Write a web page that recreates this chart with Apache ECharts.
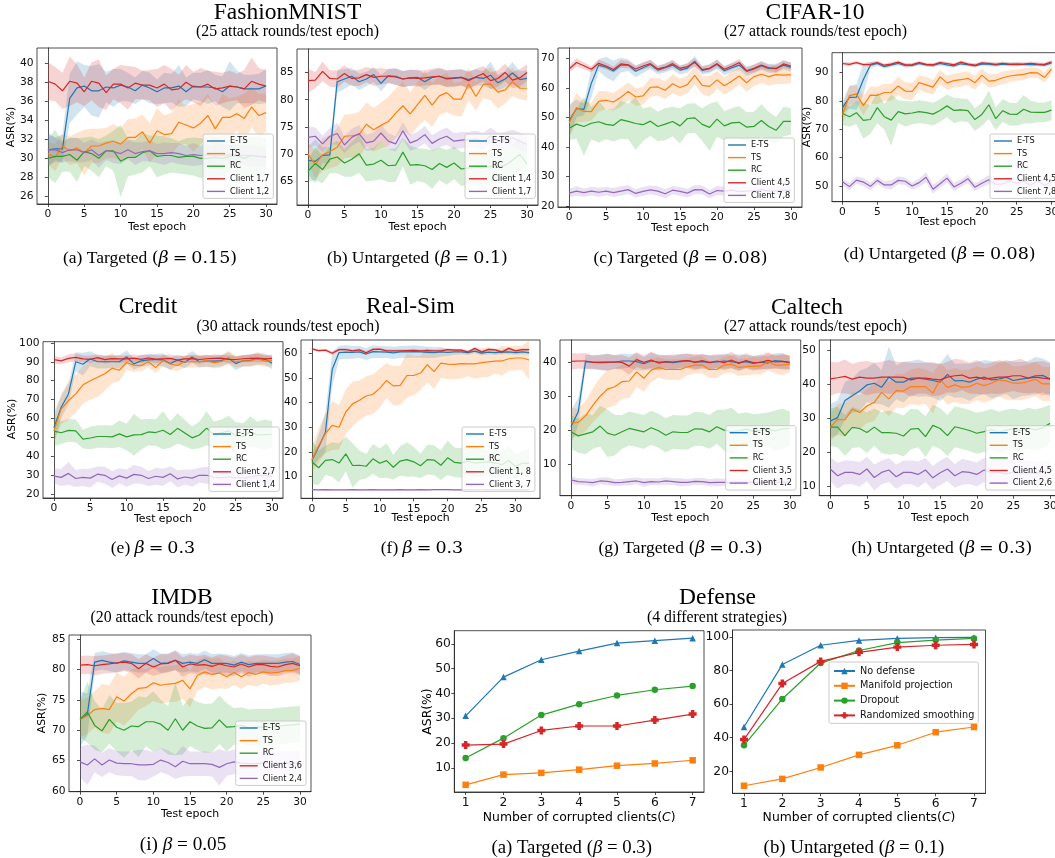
<!DOCTYPE html>
<html>
<head>
<meta charset="utf-8">
<script src="https://cdn.jsdelivr.net/npm/echarts@6/dist/echarts.min.js"></script>
<style>
html, body { margin: 0; padding: 0; background: #fff; overflow: hidden; }
#chart { width: 1075px; height: 858px; }
</style>
</head>
<body>
<div id="chart"></div>
<script>
// ---- x values / ticks ----
const epochs = [0,1,2,3,4,5,6,7,8,9,10,11,12,13,14,15,16,17,18,19,20,21,22,23,24,25,26,27,28,29,30];
const epochsRealSim = [0,1,2,3,4,5,6,7,8,9,10,11,12,13,14,15,16,17,18,19,20,21,22,23,24,25,26,27,28,29,30,31,32];
const epochTicks = [0,5,10,15,20,25,30];
const clientsC = [1,2,3,4,5,6,7];

// ---- (a) FashionMNIST targeted ----
const fmT_names = ['E-TS','TS','RC','Client 1,7','Client 1,2'];
const fmT_yTicks = [26,28,30,32,34,36,38,40];
const fmT_ets = [30.9,31.0,31.0,36.3,37.4,37.6,37.1,37.1,37.5,37.4, 37.7,37.5,37.1,37.7,37.4,37.0,37.4,37.4,37.6,37.0, 37.6,37.5,37.5,37.4,37.0,37.6,37.5,37.3,37.3,37.3, 37.6];
const fmT_etsSd = [1.8,1.2,1.5,2.6,2.8,2.2,2.6,2.8,1.6,2.0, 1.7,1.5,1.4,1.5,1.6,1.3,1.6,1.5,2.2,1.5, 1.4,1.5,1.8,1.4,1.6,2.6,1.7,1.5,1.5,1.6, 1.8];
const fmT_ts = [30.5,30.1,31.3,30.8,31.1,30.6,31.3,31.3,31.6,31.8, 31.5,32.2,32.2,32.8,31.6,32.9,32.5,32.6,33.8,33.5, 33.2,33.7,34.5,33.1,34.3,34.3,34.7,34.2,35.4,34.5, 34.8];
const fmT_tsSd = [1.2,1.4,1.3,1.5,1.6,2.4,1.8,1.8,1.6,1.8, 1.7,1.9,2.0,1.8,2.1,2.4,2.0,2.2,2.4,2.0, 2.5,2.2,2.3,2.2,2.5,2.0,1.8,2.6,2.1,2.3, 2.0];
const fmT_rc = [30.0,30.2,30.2,30.4,29.8,30.7,30.5,30.0,30.8,30.8, 29.7,30.1,30.1,30.6,30.8,30.2,30.3,30.3,30.1,30.2, 30.2,30.0,30.0,30.1,30.0,30.2,30.3,30.0,30.3,30.2, 30.1];
const fmT_rcSd = [2.0,2.8,1.6,1.8,2.3,1.5,1.8,2.0,1.6,2.1, 3.8,2.0,1.8,2.1,1.6,2.2,2.0,1.8,1.7,1.9, 2.0,2.1,2.0,2.2,2.0,1.7,2.0,2.2,2.0,2.1, 2.0];
const fmT_c17 = [38.1,37.8,37.1,38.1,37.9,37.0,38.1,37.9,36.9,37.8, 37.8,37.4,37.9,37.7,37.7,37.4,37.8,37.2,37.3,38.0, 37.5,37.5,37.8,37.3,37.4,37.6,37.5,37.3,38.1,37.8, 37.6];
const fmT_c17Sd = [2.0,1.8,1.9,2.6,2.0,1.5,2.0,2.5,1.8,1.6, 2.0,2.3,1.7,1.5,1.6,2.0,2.0,2.2,1.5,1.8, 1.6,2.0,1.4,1.8,1.6,1.6,1.4,2.0,2.5,1.7, 1.7];
const fmT_c12 = [30.9,30.9,30.6,30.9,30.9,30.6,30.9,30.3,30.8,30.7, 30.5,30.9,30.5,30.7,30.8,30.5,30.5,30.6,30.5,30.3, 30.4,30.3,30.4,30.3,30.3,30.4,30.4,30.3,30.3,30.2, 30.2];
const fmT_c12Sd = [1.6,1.3,1.0,1.2,1.3,1.0,1.1,1.3,1.0,1.2, 1.1,1.0,1.2,1.0,1.1,1.0,1.2,1.0,1.1,1.0, 1.2,1.0,1.1,1.0,1.2,1.0,1.1,1.0,1.2,1.0, 1.1];

// ---- (b) FashionMNIST untargeted ----
const fmU_names = ['E-TS','TS','RC','Client 1,4','Client 1,7'];
const fmU_yTicks = [65,70,75,80,85];
const fmU_ets = [68.9,68.7,69.8,69.9,83.3,83.8,84.3,83.3,83.8,84.6, 83.0,84.4,84.3,83.8,84.0,84.1,83.3,84.1,84.3,83.8, 83.9,84.1,83.7,84.1,83.9,84.5,83.1,83.8,84.9,83.7, 83.9];
const fmU_etsSd = [2.5,4.0,1.5,1.5,2.0,1.8,1.5,1.5,1.3,1.4, 1.5,1.3,1.5,1.5,1.5,1.4,1.5,1.3,1.4,1.5, 1.6,1.5,1.5,1.5,1.4,2.5,1.5,1.5,2.0,1.5, 1.5];
const fmU_ts = [70.1,68.1,69.9,70.5,71.3,73.3,73.4,73.6,75.5,74.5, 75.3,76.0,77.5,78.9,77.4,79.1,80.8,79.0,80.7,81.3, 80.1,80.1,82.9,80.6,82.8,82.9,81.4,81.8,83.3,82.1, 82.1];
const fmU_tsSd = [2.0,2.5,3.0,3.0,3.5,4.0,4.0,4.2,4.0,4.0, 4.2,4.5,4.5,4.4,4.0,4.1,4.5,4.0,3.5,3.6, 3.0,3.2,3.0,2.6,2.5,3.0,3.0,2.5,2.6,2.0, 2.3];
const fmU_rc = [66.9,68.3,67.2,69.1,69.5,68.4,69.1,70.1,68.0,68.2, 68.9,67.9,68.0,70.4,68.0,68.1,67.9,67.2,68.3,67.6, 68.4,67.3,67.5,67.6,67.5,67.8,67.6,68.0,68.9,70.0, 68.2];
const fmU_rcSd = [2.0,3.0,2.5,2.6,3.0,2.5,3.2,3.5,3.0,3.0, 3.5,3.0,3.1,2.6,3.6,3.0,3.1,3.5,3.0,3.2, 3.0,3.1,3.0,3.2,3.0,3.1,3.0,3.2,3.0,3.1, 3.0];
const fmU_c14 = [83.5,83.6,85.2,83.9,83.8,84.8,83.9,84.0,84.6,84.1, 84.3,84.3,84.2,83.8,84.0,83.9,84.0,84.2,84.3,83.9, 84.0,84.1,83.5,84.2,84.8,83.5,83.9,85.0,83.6,84.0, 85.0];
const fmU_c14Sd = [2.2,1.5,1.8,1.5,1.6,1.5,1.4,1.5,1.4,1.6, 1.5,1.3,1.5,1.4,1.5,1.5,1.4,1.5,1.6,1.5, 1.5,1.5,1.6,1.5,1.4,1.5,1.5,1.6,1.5,1.6, 1.5];
const fmU_c17 = [73.1,73.3,71.9,73.3,73.8,71.7,73.1,73.8,72.1,72.4, 73.9,72.4,71.9,74.3,72.1,72.6,73.6,72.0,72.8,73.3, 72.4,72.6,72.7,72.8,72.3,73.4,72.4,72.7,73.0,72.4, 71.8];
const fmU_c17Sd = [2.0,1.6,1.5,1.5,2.0,1.5,1.6,1.5,1.5,1.6, 1.5,1.5,1.4,1.6,1.5,1.5,1.6,1.5,1.5,1.6, 1.5,1.5,1.4,1.5,1.6,1.5,1.5,1.4,1.5,1.6, 1.5];

// ---- (c) CIFAR-10 targeted ----
const cfT_names = ['E-TS','TS','RC','Client 4,5','Client 7,8'];
const cfT_yTicks = [20,30,40,50,60,70];
const cfT_ets = [48.7,53.0,52.7,61.5,67.7,67.0,65.7,67.7,67.7,65.6, 66.8,67.9,66.0,66.8,67.7,66.0,66.7,69.0,65.9,66.5, 68.0,65.8,66.8,67.7,65.6,66.4,67.5,66.6,66.6,67.7, 67.0];
const cfT_etsSd = [5.5,3.0,2.0,5.0,2.0,3.5,3.5,2.5,2.0,2.0, 1.8,1.5,1.5,1.5,1.6,1.5,1.5,1.8,1.5,1.5, 1.6,1.5,1.5,1.5,1.6,1.5,1.5,1.5,1.6,1.5, 1.5];
const cfT_ts = [48.0,53.3,52.0,51.9,55.4,55.8,55.2,56.8,58.8,56.9, 57.3,60.2,60.3,59.2,61.4,60.1,61.1,64.2,60.8,60.5, 62.7,60.7,62.2,64.0,61.7,63.8,64.6,63.8,64.5,64.3, 64.5];
const cfT_tsSd = [5.0,5.0,3.5,3.0,3.5,3.0,3.0,3.2,3.0,3.0, 3.0,3.2,3.0,3.0,3.2,3.0,3.0,3.2,3.0,3.5, 3.0,3.0,3.2,3.0,3.0,3.2,3.0,3.0,3.2,3.0, 3.0];
const cfT_rc = [46.3,47.7,46.9,48.0,48.5,47.6,47.3,49.2,48.6,47.9, 47.5,48.7,46.9,47.7,48.6,47.1,49.6,49.8,47.6,46.6, 49.4,47.1,48.1,48.3,46.7,46.9,48.9,46.9,45.6,48.6, 48.6];
const cfT_rcSd = [4.0,5.0,10.0,5.5,7.0,5.0,5.5,6.5,6.0,9.0, 5.5,5.0,5.0,5.5,5.0,6.0,5.0,5.0,5.5,8.0, 6.0,5.0,5.0,5.5,5.0,5.0,5.5,5.0,4.5,5.0, 4.5];
const cfT_c45 = [66.4,68.6,67.5,66.3,68.3,67.4,66.2,68.1,67.8,66.4, 67.4,68.2,66.4,67.0,68.2,66.6,67.2,68.6,66.2,66.6, 68.2,66.3,67.3,68.5,65.8,66.6,67.7,66.8,66.5,68.1, 67.4];
const cfT_c45Sd = [1.2,1.4,1.2,1.0,1.3,1.2,1.0,1.3,1.2,1.0, 1.2,1.3,1.0,1.2,1.3,1.0,1.2,1.4,1.0,1.2, 1.3,1.0,1.2,1.3,1.0,1.2,1.3,1.0,1.2,1.3, 1.2];
const cfT_c78 = [24.3,25.0,24.5,25.0,24.6,25.0,24.5,25.0,25.5,24.2, 24.9,25.4,25.0,24.1,25.3,24.9,24.3,25.5,25.4,24.0, 25.2,25.0,25.3,24.8,25.0,25.2,25.5,25.0,25.0,25.4, 25.3];
const cfT_c78Sd = [1.5,1.6,1.4,1.5,1.5,1.4,1.5,1.6,1.5,1.4, 1.5,1.5,1.6,1.5,1.4,1.5,1.5,1.6,1.5,1.4, 1.5,1.5,1.6,1.5,1.4,1.5,1.5,1.6,1.5,1.4, 1.5];

// ---- (d) CIFAR-10 untargeted ----
const cfU_names = ['E-TS','TS','RC','Client 4,5','Client 7,8'];
const cfU_yTicks = [50,60,70,80,90];
const cfU_ets = [77.6,81.2,81.3,87.5,92.5,93.1,92.0,92.6,93.1,92.4, 92.4,93.1,92.6,92.5,93.1,92.6,92.3,93.0,92.7,92.3, 92.9,92.9,92.6,92.9,92.8,92.9,92.8,92.7,92.7,92.5, 93.3];
const cfU_etsSd = [2.0,4.0,4.5,5.5,1.2,0.8,0.6,0.7,0.6,0.8, 0.6,0.7,0.6,0.6,0.8,0.6,0.7,0.6,0.6,0.7, 0.6,0.8,0.6,0.6,0.7,0.6,0.6,0.7,0.6,0.6, 0.7];
const cfU_ts = [75.1,81.8,82.4,78.3,82.0,81.9,82.9,83.0,85.2,83.4, 83.3,86.4,85.6,84.8,88.4,86.3,87.1,87.4,87.9,86.3, 89.0,86.9,87.2,88.1,88.7,89.0,89.3,89.9,89.8,88.2, 91.1];
const cfU_tsSd = [3.0,3.5,3.0,3.5,3.0,3.0,3.0,3.0,3.2,3.0, 3.0,2.5,2.8,2.6,2.5,2.5,2.4,2.5,2.4,2.4, 2.3,2.3,2.2,2.2,2.0,2.0,2.0,1.8,1.8,1.8, 1.8];
const cfU_rc = [75.5,74.4,75.8,73.1,73.4,77.6,74.4,73.2,76.2,75.4, 75.7,76.2,75.8,75.3,76.6,78.2,76.6,76.8,76.5,73.4, 75.2,78.6,73.7,76.5,75.3,75.2,77.0,76.0,75.9,75.9, 76.7];
const cfU_rcSd = [4.0,3.5,4.0,6.5,5.0,5.5,4.5,9.0,4.0,4.5, 4.0,4.0,4.0,4.0,4.0,4.0,4.5,4.0,4.0,4.0, 4.0,5.0,4.0,4.0,4.0,4.0,5.0,4.0,3.5,3.5, 3.5];
const cfU_c45 = [93.1,92.8,93.4,92.7,92.8,93.4,92.5,92.9,93.6,92.6, 92.7,93.4,92.8,92.6,93.4,93.1,92.6,93.6,92.9,92.5, 93.3,93.1,92.8,93.2,92.8,92.8,92.9,93.2,92.9,92.8, 93.7];
const cfU_c45Sd = [0.6,0.7,0.6,0.6,0.7,0.6,0.6,0.7,0.6,0.6, 0.7,0.6,0.6,0.7,0.6,0.6,0.7,0.6,0.6,0.7, 0.6,0.6,0.7,0.6,0.6,0.7,0.6,0.6,0.7,0.6, 0.6];
const cfU_c78 = [51.5,49.8,52.1,51.4,49.9,52.0,50.4,50.4,52.0,51.7, 50.0,51.2,53.1,48.9,50.8,52.8,49.7,51.0,52.6,49.6, 51.0,52.2,50.6,50.8,51.8,51.0,51.6,50.3,51.9,50.3, 51.5];
const cfU_c78Sd = [1.2,1.4,1.3,1.5,1.3,1.4,1.2,1.6,1.4,1.3, 1.2,1.5,1.8,1.6,1.3,1.6,1.4,1.3,1.5,1.3, 1.4,1.6,1.4,1.3,1.5,1.4,1.3,1.4,1.5,1.3, 1.4];

// ---- (e) Credit ----
const cr_names = ['E-TS','TS','RC','Client 2,7','Client 1,4'];
const cr_yTicks = [20,30,40,50,60,70,80,90,100];
const cr_ets = [55.0,66.0,73.0,90.0,88.7,91.6,90.0,90.0,90.0,90.0, 92.5,88.9,90.5,91.0,91.2,91.0,89.0,90.9,89.6,92.5, 90.0,90.4,90.3,90.6,92.0,89.0,90.5,90.8,91.6,91.4, 89.2];
const cr_etsSd = [8.0,6.0,5.5,5.0,6.0,4.0,3.5,3.5,3.2,3.5, 3.5,3.0,3.2,3.0,3.0,3.5,3.2,3.0,3.0,3.2, 3.0,3.0,3.2,3.0,3.0,3.5,3.0,3.2,3.0,3.0, 3.2];
const cr_ts = [53.5,65.0,69.5,73.0,77.8,80.0,81.8,83.7,86.6,85.5, 89.6,88.2,88.0,90.0,86.9,90.7,88.8,88.1,90.0,90.0, 90.1,90.5,89.5,90.0,92.3,89.9,90.5,90.4,91.6,90.3, 90.6];
const cr_tsSd = [6.0,8.0,10.0,10.0,10.0,10.0,10.5,9.0,8.0,5.5, 4.0,3.5,3.0,3.0,3.0,3.0,3.0,3.0,3.0,3.0, 3.0,3.0,3.0,3.0,3.5,3.0,3.0,3.0,3.5,3.0, 3.0];
const cr_rc = [53.3,52.5,53.7,53.5,49.1,49.7,50.5,50.5,50.3,51.9, 50.3,51.4,51.5,52.9,52.6,53.8,51.6,54.8,52.3,49.8, 51.3,54.9,51.4,52.4,53.5,51.2,50.5,53.1,51.3,51.5, 51.7];
const cr_rcSd = [8,6,6,6,5,6,6,6,6,7, 7,11,8,7,7,10,7,8,7,6, 7,9,7,7,8,7,7,8,7,8, 7];
const cr_c27 = [91.1,90.5,91.8,92.3,91.5,91.3,92.2,91.1,91.7,91.5, 91.5,91.9,91.3,92.0,91.4,91.6,91.8,90.9,91.5,91.7, 91.2,91.6,91.8,91.9,91.3,91.2,91.6,91.8,91.9,91.5, 91.8];
const cr_c27Sd = [2.0,1.8,2.0,2.2,1.8,2.0,1.8,2.0,1.8,2.0, 1.8,2.0,2.2,1.8,2.0,1.8,2.0,2.0,1.8,2.0, 2.2,1.8,2.0,1.8,2.0,2.0,1.8,2.0,2.2,1.8, 2.0];
const cr_c14 = [29.6,28.9,31.0,28.3,28.9,28.5,30.6,30.0,27.8,29.7, 28.5,30.5,30.0,28.3,29.5,28.9,30.8,28.1,29.1,28.5, 30.0,30.0,29.0,28.6,29.2,28.8,28.6,29.0,29.8,30.0, 29.3];
const cr_c14Sd = [4.0,4.5,6.0,4.5,4.5,5.0,4.0,4.5,4.5,4.0, 4.5,5.0,4.5,4.0,4.5,4.5,4.0,4.5,4.0,4.5, 4.0,4.5,4.0,4.5,4.0,4.5,4.0,4.5,4.0,4.5, 4.0];

// ---- (f) Real-Sim (33 test epochs) ----
const rs_names = ['E-TS','TS','RC','Client 1, 8','Client 3, 7'];
const rs_yTicks = [10,20,30,40,50,60];
const rs_ets = [16.5,22.0,28.0,53.5,60.3,60.5,60.4,60.6,59.7,60.7, 60.6,60.5,60.2,60.6,60.6,60.7,60.6,60.4,60.3,60.6, 60.4,60.6,60.6,60.3,60.9,60.1,60.5,60.3,60.5,60.6, 60.3,60.6,60.3];
const rs_etsSd = [2.5,5.0,8.0,7.0,2.8,2.8,2.6,2.5,2.4,2.6, 2.5,2.4,2.5,2.4,2.5,2.5,2.4,2.3,2.2,2.0, 1.5,1.2,1.0,1.0,0.9,1.0,0.9,1.0,0.9,1.0, 0.9,1.0,0.9];
const rs_ts = [16.8,22.5,27.5,30.8,30.0,36.3,39.5,41.0,42.7,43.4, 45.8,49.0,46.8,47.0,51.0,51.0,52.0,55.4,52.6,56.0, 55.6,55.5,55.8,55.7,55.7,56.2,56.5,56.8,56.9,57.8, 58.1,58.1,57.3];
const rs_tsSd = [5,7,8,10,9,9,9,8,8,8, 8,7,8,8,9,8,7,7,7,6, 6,6,6,5,6,6,6,5,6,5, 5,5,8];
const rs_rc = [16.0,13.6,16.6,16.9,15.5,19.2,14.5,14.6,14.2,17.2, 15.4,16.5,13.8,16.3,16.9,16.0,14.4,16.9,16.7,14.6, 17.6,15.8,15.5,16.3,15.5,15.8,16.0,15.5,14.8,16.5, 14.1,15.5,15.4];
const rs_rcSd = [9,7,6,7,8,7,9,6,5,6, 6,7,5,6,7,6,5,6,6,6, 7,6,6,6,6,6,5,6,5,6, 5,5,6];
const rs_c18 = [61.8,61.1,61.3,60.0,61.5,61.5,61.0,61.4,60.2,61.6, 61.7,61.0,61.0,61.0,61.1,61.2,61.0,61.1,61.0,61.0, 61.5,61.3,61.3,60.5,62.0,60.5,61.6,61.4,60.5,62.0, 61.0,61.5,61.5];
const rs_c18Sd = [0.6,0.5,0.6,0.8,0.6,0.6,0.5,0.6,0.7,0.6, 0.5,0.6,0.5,0.6,0.5,0.6,0.5,0.6,0.5,0.6, 0.5,0.6,0.5,0.7,0.6,0.7,0.5,0.6,0.7,0.6, 0.5,0.6,0.5];
const rs_c37 = [4.7,4.6,4.7,4.6,4.6,4.6,4.7,4.6,4.6,4.7, 4.6,4.6,4.6,4.7,4.6,4.6,4.7,4.6,4.7,4.7, 4.7,4.6,4.6,4.7,4.6,4.6,4.7,4.6,4.6,4.7, 4.6,4.6,4.6];
const rs_c37Sd = [0.3,0.3,0.3,0.3,0.3,0.3,0.3,0.3,0.3,0.3, 0.3,0.3,0.3,0.3,0.3,0.3,0.3,0.3,0.3,0.3, 0.3,0.3,0.3,0.3,0.3,0.3,0.3,0.3,0.3,0.3, 0.3,0.3,0.3];

// ---- (g) Caltech targeted ----
const ctT_names = ['E-TS','TS','RC','Client 3,5','Client 1,2'];
const ctT_yTicks = [10,20,30,40];
const ctT_ets = [21.0,25.4,40.2,40.1,40.1,40.1,40.1,40.4,40.4,40.2, 39.6,40.4,40.1,40.1,39.9,40.2,40.5,40.1,40.2,40.0, 40.1,40.4,40.2,39.9,40.2,39.7,40.1,39.8,40.5,40.3, 39.9];
const ctT_etsSd = [5.0,4.0,2.0,2.0,2.2,2.5,2.0,2.2,2.0,2.5, 2.0,2.5,2.2,2.0,2.0,2.2,2.0,2.0,2.2,2.0, 2.0,2.2,2.0,2.5,2.0,2.2,2.0,2.0,2.2,2.5, 2.0];
const ctT_ts = [22.1,22.3,24.2,27.3,30.0,32.1,32.8,34.3,34.5,37.2, 35.3,37.7,38.5,37.9,37.9,37.9,38.7,39.2,39.2,37.9, 37.9,39.2,39.5,38.5,38.7,38.9,38.9,40.2,39.2,39.2, 39.5];
const ctT_tsSd = [4.5,4.0,4.5,5.0,5.5,5.6,5.5,5.0,5.0,4.5, 4.0,3.5,3.0,3.0,3.0,3.0,2.5,2.5,2.5,2.5, 2.5,2.5,2.5,2.5,2.5,2.5,2.5,2.5,2.5,3.0, 2.5];
const ctT_rc = [19.5,18.3,18.9,19.5,21.2,19.1,18.5,19.5,20.5,20.0, 19.5,20.7,19.8,18.5,19.5,19.3,19.3,20.4,20.3,19.5, 21.0,20.0,19.6,19.8,20.3,19.7,19.9,20.2,19.8,20.4, 20.5];
const ctT_rcSd = [5,5,6,5,6,7,6,5,5,5, 5,5,5,5,5,5,5,5,5,5, 5,6,7,5,5,5,5,5,6,6, 5];
const ctT_c35 = [40.3,40.4,40.4,40.0,39.9,40.0,40.1,40.0,38.9,40.8, 40.0,40.7,39.8,40.2,40.1,40.4,40.5,40.0,40.5,39.9, 40.4,39.9,40.7,39.7,40.5,39.9,40.0,40.6,40.1,40.3, 40.0];
const ctT_c35Sd = [2.5,2.2,2.4,2.0,2.2,2.5,2.0,2.2,2.5,2.2, 2.0,2.4,2.2,2.0,2.2,2.0,2.2,2.4,2.0,2.2, 2.0,2.2,2.4,2.0,2.2,2.0,2.2,2.4,2.0,2.2, 2.0];
const ctT_c12 = [5.3,4.8,4.7,4.5,5.0,4.9,4.5,4.6,4.8,5.0, 4.5,4.8,4.7,5.0,4.8,4.6,4.6,4.9,4.8,4.5, 4.6,4.6,4.7,4.7,4.6,4.6,4.5,4.6,4.7,4.6, 4.7];
const ctT_c12Sd = [1.2,1.0,1.0,1.1,1.0,1.2,1.0,1.0,1.1,1.0, 1.2,1.0,1.0,1.1,1.0,1.2,1.0,1.0,1.1,1.0, 1.2,1.0,1.0,1.1,1.0,1.2,1.0,1.0,1.1,1.0, 1.0];

// ---- (h) Caltech untargeted ----
const ctU_names = ['E-TS','TS','RC','Client 4,5','Client 2,6'];
const ctU_yTicks = [10,20,30,40,50];
const ctU_ets = [29.1,30.1,35.1,36.5,37.9,39.7,40.2,39.0,42.0,40.5, 40.5,41.7,41.7,41.4,41.0,40.5,42.8,40.9,41.0,40.5, 41.4,42.0,41.2,41.4,42.0,41.0,41.4,41.7,42.4,42.5, 41.4];
const ctU_etsSd = [5.0,5.0,5.5,5.0,6.0,5.0,6.0,5.0,9.0,5.0, 6.0,5.0,5.5,5.0,5.0,5.5,6.0,5.0,5.0,5.5, 5.0,5.0,5.5,5.0,5.0,5.5,5.0,5.0,5.5,5.0, 5.0];
const ctU_ts = [27.2,29.6,29.4,32.6,31.6,33.5,34.6,37.5,35.6,38.0, 37.9,39.2,39.2,39.2,37.3,41.2,39.0,39.7,39.0,39.2, 40.2,39.5,40.2,41.2,40.9,40.2,40.2,40.7,41.4,40.0, 40.0];
const ctU_tsSd = [4.0,4.5,5.0,5.0,5.0,5.0,5.5,5.0,5.0,5.0, 5.0,5.0,5.5,5.0,6.0,5.0,5.0,5.0,5.0,5.0, 5.0,5.0,5.0,5.0,5.5,5.0,5.0,5.0,5.0,5.0, 5.0];
const ctU_rc = [27.3,27.3,24.8,27.2,26.9,25.7,27.3,25.7,25.7,25.5, 24.7,26.7,26.9,24.5,27.8,26.9,24.8,27.4,26.9,26.3, 25.5,26.0,26.6,25.8,26.4,26.8,26.2,27.0,26.5,27.1, 28.4];
const ctU_rcSd = [5.5,6.0,6.0,6.0,5.5,6.0,5.5,6.0,6.5,6.0, 6.0,6.0,5.5,6.0,6.0,6.0,6.0,6.0,6.0,6.0, 6.0,6.0,6.0,6.0,6.0,6.0,6.0,6.0,6.0,6.0, 5.5];
const ctU_c45 = [41.5,41.8,42.2,41.4,42.0,41.7,41.7,42.0,42.0,42.0, 41.9,41.2,41.7,41.7,41.4,41.2,42.0,42.4,42.6,41.7, 42.0,41.4,41.7,42.0,42.0,42.4,42.4,41.7,42.0,41.7, 41.5];
const ctU_c45Sd = [5.0,4.5,5.0,4.5,4.5,5.0,4.5,4.5,5.0,4.5, 4.5,5.0,4.5,4.5,5.0,4.5,4.5,5.0,4.5,4.5, 5.0,4.5,4.5,5.0,4.5,4.5,5.0,4.5,4.5,5.0, 4.5];
const ctU_c26 = [15.0,13.0,14.0,14.0,13.4,15.0,12.5,14.0,14.7,12.7, 14.0,14.0,13.4,14.7,12.4,13.9,15.0,13.0,14.2,14.0, 13.4,14.7,13.8,14.0,13.5,14.2,13.8,14.0,13.7,14.1, 13.9];
const ctU_c26Sd = [3.5,3.8,3.5,3.5,3.6,3.5,3.8,3.5,3.5,3.6, 3.5,3.5,3.8,3.5,3.5,3.6,3.5,3.5,3.8,3.5, 3.5,3.6,3.5,3.5,3.8,3.5,3.5,3.6,3.5,3.5, 3.5];

// ---- (i) IMDB ----
const imdb_names = ['E-TS','TS','RC','Client 3,6','Client 2,4'];
const imdb_yTicks = [60,65,70,75,80,85];
const imdb_ets = [71.8,72.6,81.2,81.5,81.2,81.0,81.4,81.2,81.0,81.0, 81.8,81.0,81.1,81.5,81.0,81.2,81.0,81.6,81.0,81.0, 81.0,80.7,81.2,80.8,81.0,81.0,81.0,81.0,81.2,81.3, 80.8];
const imdb_etsSd = [4.5,3.5,1.5,1.5,1.5,1.5,1.5,1.5,1.5,1.5, 1.5,1.6,1.5,1.7,1.5,1.5,1.5,1.5,1.5,1.6, 1.5,1.5,1.5,1.5,1.5,1.5,1.5,1.5,1.5,1.5, 1.5];
const imdb_ts = [71.8,72.4,73.4,73.6,73.4,75.5,74.8,76.0,76.9,77.0, 77.8,77.4,77.6,77.7,78.2,76.8,79.0,79.6,79.2,79.4, 78.8,79.5,78.8,79.5,79.2,79.6,79.4,79.5,79.8,79.8, 80.2];
const imdb_tsSd = [3.0,3.0,3.0,4.0,4.0,4.0,4.0,4.0,3.5,3.0, 3.0,3.0,3.0,3.0,3.0,3.0,2.5,2.5,2.5,2.5, 2.0,2.0,2.0,2.0,2.0,2.0,2.0,2.0,2.0,2.0, 2.0];
const imdb_rc = [71.8,73.0,70.8,69.9,71.8,70.5,70.0,70.7,70.6,71.4, 71.4,71.0,70.0,71.9,70.0,71.4,70.7,70.3,70.4,71.7, 70.5,70.6,70.8,70.4,70.5,70.5,70.5,70.7,70.8,70.9, 71.0];
const imdb_rcSd = [3.0,5.0,4.0,3.5,4.0,4.0,4.5,4.0,5.0,4.0, 5.0,4.0,4.0,6.0,4.0,4.0,4.0,4.0,4.0,4.0, 4.0,3.0,3.0,3.0,3.0,3.0,3.0,3.0,3.0,3.0, 3.0];
const imdb_c36 = [80.7,80.8,80.6,80.8,80.9,81.1,81.2,81.0,80.1,81.0, 80.4,80.9,81.0,81.5,80.4,80.9,80.7,80.8,80.5,80.9, 80.6,80.4,80.9,80.4,80.8,80.8,80.5,80.4,80.8,81.0, 80.6];
const imdb_c36Sd = [1.5,1.5,1.6,1.5,1.5,1.6,1.5,1.5,1.6,1.5, 1.5,1.6,1.5,1.5,1.6,1.5,1.5,1.6,1.5,1.5, 1.6,1.5,1.5,1.6,1.5,1.5,1.6,1.5,1.5,1.6, 1.5];
const imdb_c24 = [64.8,64.3,65.3,64.3,65.1,64.6,64.5,64.5,64.3,64.3, 64.4,65.1,64.7,64.0,64.9,64.5,64.5,64.5,64.4,63.9, 64.5,64.8,64.6,64.5,64.5,64.6,64.6,64.6,64.6,64.6, 64.6];
const imdb_c24Sd = [2.5,3.3,2.2,2.0,2.0,2.0,2.0,2.0,2.5,2.5, 2.0,2.0,2.0,2.0,2.5,2.0,2.0,2.0,2.0,3.0, 2.0,2.0,2.0,2.0,2.0,2.0,2.0,2.0,2.0,2.0, 2.0];

// ---- Defense ----
const def_names = ['No defense','Manifold projection','Dropout','Randomized smoothing'];
const defT_yTicks = [10,20,30,40,50,60];
const defU_yTicks = [20,40,60,80,100];
const defT_none = [31.0,46.6,53.6,57.1,60.3,61.3,62.3];
const defT_manifold = [3.2,7.3,8.0,9.3,10.9,11.8,13.1];
const defT_dropout = [14.0,22.0,31.3,35.7,39.2,41.5,43.0];
const defT_smooth = [19.2,19.6,25.1,26.9,26.9,29.3,31.7];
const defU_none = [46.4,83.6,95.1,98.0,99.2,99.6,99.8];
const defU_manifold = [11.4,15.5,22.3,29.8,35.5,43.3,46.4];
const defU_dropout = [35.5,63.1,84.5,92.0,96.7,98.2,99.2];
const defU_smooth = [38.9,72.3,85.5,90.9,94.0,95.1,95.6];

// ---- styles ----
const COLORS = ['#1f77b4', '#ff7f0e', '#2ca02c', '#d62728', '#9467bd'];
const BAND = ['rgba(31,119,180,0.2)', 'rgba(255,127,14,0.2)', 'rgba(44,160,44,0.2)', 'rgba(214,39,40,0.2)', 'rgba(148,103,189,0.2)'];
const SANS = '"DejaVu Sans", sans-serif';
const SERIF = '"Liberation Serif", "Times New Roman", serif';
const MATHF = '"DejaVu Serif", serif';

// layout of the nine training-curve panels: box = [x0, y0, x1, y1] in px
const panels = [
  { key: 'a', xs: epochs, box: [37, 48, 277, 204], x: [-1.5, 31.5], y: [25.2, 41.6], yTicks: fmT_yTicks, leg: [203, 134], names: fmT_names,
    lines: [[fmT_ets, fmT_etsSd], [fmT_ts, fmT_tsSd], [fmT_rc, fmT_rcSd], [fmT_c17, fmT_c17Sd], [fmT_c12, fmT_c12Sd]], xlab: 227 },
  { key: 'b', xs: epochs, box: [297, 49, 538, 205], x: [-1.5, 31.5], y: [60.7, 89.3], yTicks: fmU_yTicks, leg: [465, 134], names: fmU_names,
    lines: [[fmU_ets, fmU_etsSd], [fmU_ts, fmU_tsSd], [fmU_rc, fmU_rcSd], [fmU_c14, fmU_c14Sd], [fmU_c17, fmU_c17Sd]], xlab: 227 },
  { key: 'c', xs: epochs, box: [558, 48, 802, 207], x: [-1.5, 31.5], y: [19.6, 73.5], yTicks: cfT_yTicks, leg: [724, 138], names: cfT_names,
    lines: [[cfT_ets, cfT_etsSd], [cfT_ts, cfT_tsSd], [cfT_rc, cfT_rcSd], [cfT_c45, cfT_c45Sd], [cfT_c78, cfT_c78Sd]], xlab: 228 },
  { key: 'd', xs: epochs, box: [832, 52.7, 1062, 201.7], x: [-1.5, 31.5], y: [44.5, 96.9], yTicks: cfU_yTicks, leg: [990, 134], names: cfU_names,
    lines: [[cfU_ets, cfU_etsSd], [cfU_ts, cfU_tsSd], [cfU_rc, cfU_rcSd], [cfU_c45, cfU_c45Sd], [cfU_c78, cfU_c78Sd]], xlab: 222 },
  { key: 'e', xs: epochs, box: [43, 341.7, 283, 498], x: [-1.5, 31.5], y: [18, 100.6], yTicks: cr_yTicks, leg: [209, 427], names: cr_names,
    lines: [[cr_ets, cr_etsSd], [cr_ts, cr_tsSd], [cr_rc, cr_rcSd], [cr_c27, cr_c27Sd], [cr_c14, cr_c14Sd]], xlab: 519 },
  { key: 'f', xs: epochsRealSim, box: [301, 340, 540, 498.3], x: [-1.6, 33.6], y: [1.2, 65.4], yTicks: rs_yTicks, leg: [462, 427], names: rs_names,
    lines: [[rs_ets, rs_etsSd], [rs_ts, rs_tsSd], [rs_rc, rs_rcSd], [rs_c18, rs_c18Sd], [rs_c37, rs_c37Sd]], xlab: 518 },
  { key: 'g', xs: epochs, box: [560, 340, 800.7, 495.7], x: [-1.5, 31.5], y: [0.65, 46.6], yTicks: ctT_yTicks, leg: [725.7, 425.7], names: ctT_names,
    lines: [[ctT_ets, ctT_etsSd], [ctT_ts, ctT_tsSd], [ctT_rc, ctT_rcSd], [ctT_c35, ctT_c35Sd], [ctT_c12, ctT_c12Sd]], xlab: 518 },
  { key: 'h', xs: epochs, box: [819.3, 340, 1061, 495.7], x: [-1.5, 31.5], y: [7.15, 52.9], yTicks: ctU_yTicks, leg: [985.7, 425.7], names: ctU_names,
    lines: [[ctU_ets, ctU_etsSd], [ctU_ts, ctU_tsSd], [ctU_rc, ctU_rcSd], [ctU_c45, ctU_c45Sd], [ctU_c26, ctU_c26Sd]], xlab: 518 },
  { key: 'i', xs: epochs, box: [69, 635, 311, 791.7], x: [-1.5, 31.5], y: [59.9, 85.66], yTicks: imdb_yTicks, leg: [235.7, 721], names: imdb_names,
    lines: [[imdb_ets, imdb_etsSd], [imdb_ts, imdb_tsSd], [imdb_rc, imdb_rcSd], [imdb_c36, imdb_c36Sd], [imdb_c24, imdb_c24Sd]], xlab: 814 }
];

const grid = [], xAxis = [], yAxis = [], series = [], legend = [], graphic = [];

function axis(ticks, fs, margin) {
  return {
    type: 'value',
    axisLine: { show: true, lineStyle: { color: '#222', width: 0.8 } },
    axisTick: { show: true, customValues: ticks, length: 3, lineStyle: { color: '#222', width: 0.8 } },
    axisLabel: { customValues: ticks, color: '#111', fontFamily: SANS, fontSize: fs, margin: margin },
    splitLine: { show: false }
  };
}

function bandRenderer(xs, mean, sd, fill) {
  return function (params, api) {
    const pts = [];
    for (let i = 0; i < xs.length; i++) pts.push(api.coord([xs[i], mean[i] + sd[i]]));
    for (let i = xs.length - 1; i >= 0; i--) pts.push(api.coord([xs[i], mean[i] - sd[i]]));
    const cs = params.coordSys;
    return {
      type: 'polygon', shape: { points: pts }, style: { fill: fill },
      clipPath: { type: 'rect', shape: { x: cs.x, y: cs.y, width: cs.width, height: cs.height } }
    };
  };
}

function addGrid(box, xr, yr, xTicks, yTicks, fs) {
  const gi = grid.length;
  grid.push({ left: box[0], top: box[1], width: box[2] - box[0], height: box[3] - box[1],
    show: true, borderColor: '#222', borderWidth: 0.8, backgroundColor: 'rgba(0,0,0,0)' });
  xAxis.push(Object.assign(axis(xTicks, fs, 5), { gridIndex: gi, min: xr[0], max: xr[1] }));
  yAxis.push(Object.assign(axis(yTicks, fs, 3.5), { gridIndex: gi, min: yr[0], max: yr[1] }));
  return gi;
}

function text(x, y, str, size, family, extra) {
  graphic.push({
    type: 'text', x: x, y: y, z: 100,
    style: Object.assign({ text: str, fontSize: size, fontFamily: family, fill: '#000', align: 'center', verticalAlign: 'middle' }, extra || {})
  });
}

const legendFormatter = function (name) { return name.split('|')[1]; };

panels.forEach(function (p) {
  const gi = addGrid(p.box, p.x, p.y, epochTicks, p.yTicks, 10.7);
  const legendNames = [];
  p.lines.forEach(function (ln, k) {
    const name = p.key + '|' + p.names[k];
    legendNames.push(name);
    series.push({
      type: 'line', name: name, xAxisIndex: gi, yAxisIndex: gi,
      data: p.xs.map(function (x, i) { return [x, ln[0][i]]; }),
      symbol: 'none', lineStyle: { color: COLORS[k], width: 1.2 }, itemStyle: { color: COLORS[k] },
      silent: true, animation: false
    });
    series.push({
      type: 'custom', xAxisIndex: gi, yAxisIndex: gi, silent: true, animation: false,
      data: [[p.xs[0], ln[0][0]]],
      renderItem: bandRenderer(p.xs, ln[0], ln[1], BAND[k])
    });
  });
  legend.push({
    orient: 'vertical', left: p.leg[0], top: p.leg[1], data: legendNames, formatter: legendFormatter,
    icon: 'rect', itemWidth: 18, itemHeight: 1.4, itemGap: 4.6, selectedMode: false,
    textStyle: { fontSize: 8.2, fontFamily: SANS, color: '#111', lineHeight: 8 },
    backgroundColor: 'rgba(255,255,255,0.8)', borderColor: '#ccc', borderWidth: 1, borderRadius: 2, padding: [3, 4, 3, 4]
  });
  text((p.box[0] + p.box[2]) / 2, p.xlab, 'Test epoch', 10.9, SANS);
});

// ---- defense panels ----
const defMarkers = ['triangle', 'rect', 'circle', 'path://M1.7,0H4.3V1.7H6V4.3H4.3V6H1.7V4.3H0V1.7H1.7Z'];
const defPanels = [
  { key: 'da', box: [454.3, 630.7, 704, 792], y: [0.3, 65.3], yTicks: defT_yTicks, lines: [defT_none, defT_manifold, defT_dropout, defT_smooth] },
  { key: 'db', box: [732.5, 630, 985.5, 793.3], y: [6.9, 104.2], yTicks: defU_yTicks, lines: [defU_none, defU_manifold, defU_dropout, defU_smooth] }
];
defPanels.forEach(function (p) {
  const gi = addGrid(p.box, [0.7, 7.3], p.y, clientsC, p.yTicks, 12.3);
  const names = [];
  p.lines.forEach(function (vals, k) {
    const name = p.key + '|' + def_names[k];
    names.push(name);
    series.push({
      type: 'line', name: name, xAxisIndex: gi, yAxisIndex: gi,
      data: clientsC.map(function (c, i) { return [c, vals[i]]; }),
      symbol: defMarkers[k], symbolSize: k === 3 ? 8 : 6.5, showSymbol: true,
      lineStyle: { color: COLORS[k], width: 1.2 }, itemStyle: { color: COLORS[k] },
      silent: true, animation: false
    });
  });
  text((p.box[0] + p.box[2]) / 2, 817.7, 'Number of corrupted clients({c|C})', 12.4, SANS,
    { rich: { c: { fontStyle: 'italic', fontSize: 12.4, fontFamily: SANS, fill: '#000' } } });
  if (p.key === 'db') {
    legend.push({
      orient: 'vertical', left: 829, top: 662, data: names, formatter: legendFormatter,
      itemWidth: 21, itemHeight: 8, itemGap: 4.8, selectedMode: false,
      textStyle: { fontSize: 9.7, fontFamily: SANS, color: '#111', lineHeight: 9 },
      backgroundColor: 'rgba(255,255,255,0.8)', borderColor: '#ccc', borderWidth: 1, borderRadius: 2, padding: [4, 4, 3, 4]
    });
  }
});

// ---- y axis labels ----
[[11, 127], [807, 127], [12, 419], [42, 713], [427.7, 711.5]].forEach(function (pos, i) {
  graphic.push({ type: 'text', x: pos[0], y: pos[1], rotation: Math.PI / 2, z: 100,
    style: { text: 'ASR(%)', fontSize: i === 4 ? 12.4 : 10.8, fontFamily: SANS, fill: '#000', align: 'center', verticalAlign: 'middle' } });
});

// ---- titles ----
text(287.5, 13, 'FashionMNIST', 23.5, SERIF);
text(287.5, 32, '(25 attack rounds/test epoch)', 15.8, SERIF);
text(815, 13, 'CIFAR-10', 23.5, SERIF);
text(815.5, 32, '(27 attack rounds/test epoch)', 15.8, SERIF);
text(148, 307, 'Credit', 23.5, SERIF);
text(288, 326.7, '(30 attack rounds/test epoch)', 15.8, SERIF);
text(410.5, 307, 'Real-Sim', 23.5, SERIF);
text(807, 308, 'Caltech', 23.5, SERIF);
text(815.5, 326.7, '(27 attack rounds/test epoch)', 15.8, SERIF);
text(182, 598, 'IMDB', 23.5, SERIF);
text(182, 618, '(20 attack rounds/test epoch)', 15.8, SERIF);
text(717.5, 598, 'Defense', 23.5, SERIF);
text(717, 618, '(4 different strategies)', 15.8, SERIF);

// ---- captions (math part in a wider serif, like the LaTeX original) ----
const CAP = 17.5;
const capRich = { rich: {
  n: { fontSize: CAP, fontFamily: MATHF, fill: '#000' },
  m: { fontStyle: 'italic', fontSize: CAP, fontFamily: MATHF, fill: '#000' },
  e: { fontSize: CAP, fontFamily: MATHF, fill: '#000', padding: [0, 4] }
} };
text(150, 258, '(a) Targeted {n|(}{m|β}{e|=}{n|0.15)}', CAP, SERIF, capRich);
text(417.5, 258, '(b) Untargeted {n|(}{m|β}{e|=}{n|0.1)}', CAP, SERIF, capRich);
text(680.5, 258, '(c) Targeted {n|(}{m|β}{e|=}{n|0.08)}', CAP, SERIF, capRich);
text(939.7, 254, '(d) Untargeted {n|(}{m|β}{e|=}{n|0.08)}', CAP, SERIF, capRich);
text(153, 548, '(e) {m|β}{e|=}{n|0.3}', CAP, SERIF, capRich);
text(422, 548, '(f) {m|β}{e|=}{n|0.3}', CAP, SERIF, capRich);
text(680.5, 548, '(g) Targeted {n|(}{m|β}{e|=}{n|0.3)}', CAP, SERIF, capRich);
text(942, 548, '(h) Untargeted {n|(}{m|β}{e|=}{n|0.3)}', CAP, SERIF, capRich);
const capRich2 = { rich: { m: { fontStyle: 'italic', fontSize: 19.2, fontFamily: SERIF, fill: '#000' } } };
text(183, 845, '(i) {m|β} = 0.05', 19.2, SERIF, capRich2);
text(571.7, 848, '(a) Targeted ({m|β} = 0.3)', 18.8, SERIF, { rich: { m: { fontStyle: 'italic', fontSize: 18.8, fontFamily: SERIF, fill: '#000' } } });
text(854, 848, '(b) Untargeted ({m|β} = 0.1)', 18.9, SERIF, { rich: { m: { fontStyle: 'italic', fontSize: 18.9, fontFamily: SERIF, fill: '#000' } } });

const chart = echarts.init(document.getElementById('chart'), null, { renderer: 'canvas' });
chart.setOption({
  backgroundColor: '#fff',
  animation: false,
  grid: grid, xAxis: xAxis, yAxis: yAxis, legend: legend, series: series, graphic: graphic
});
</script>
</body>
</html>
